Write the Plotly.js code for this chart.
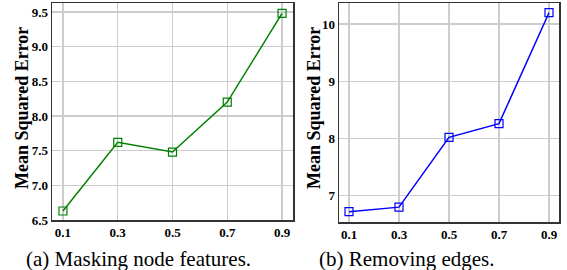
<!DOCTYPE html>
<html><head><meta charset="utf-8">
<script src="https://cdn.plot.ly/plotly-3.0.1.min.js"></script>
<style>body{margin:0;padding:0;background:#fff}#c{width:567px;height:270px}</style>
</head><body><div id="c"></div>
<script>
const ratios = [0.1, 0.3, 0.5, 0.7, 0.9];
const tickLabels = ['0.1', '0.3', '0.5', '0.7', '0.9'];
const maskingMSE = [6.63, 7.62, 7.48, 8.20, 9.48];
const removingMSE = [6.72, 6.80, 8.02, 8.26, 10.20];
const leftYTicks = [6.5, 7.0, 7.5, 8.0, 8.5, 9.0, 9.5];
const leftYLabels = ['6.5', '7.0', '7.5', '8.0', '8.5', '9.0', '9.5'];
const rightYTicks = [7, 8, 9, 10];
const rightYLabels = ['7', '8', '9', '10'];
const captions = ['(a)\u00a0Masking node features.', '(b)\u00a0Removing edges.'];
const yTitle = 'Mean Squared Error';

const serif = 'Liberation Serif, Times New Roman, serif';
const tickFont = {family: serif, size: 13, color: '#000', weight: 'bold'};
const gridColor = '#cccccc';

function xa(domain) {
  return {domain: domain, range: [0.06, 0.94], tickvals: ratios, ticktext: tickLabels,
    showgrid: true, gridcolor: gridColor, gridwidth: 1.5, zeroline: false,
    showline: true, mirror: true, linecolor: '#333', linewidth: 1.5,
    ticks: '', tickfont: tickFont, fixedrange: true};
}
function ya(domain, range, tv, tt, anchor) {
  return {domain: domain, range: range, tickvals: tv, ticktext: tt, anchor: anchor,
    showgrid: true, gridcolor: gridColor, gridwidth: 1.5, zeroline: false,
    showline: true, mirror: true, linecolor: '#333', linewidth: 1.5,
    ticks: '', tickfont: tickFont, fixedrange: true};
}

const data = [
  {x: ratios, y: maskingMSE, xaxis: 'x', yaxis: 'y', type: 'scatter', mode: 'lines+markers',
   line: {color: '#008000', width: 1.5},
   marker: {symbol: 'square-open', size: 8, color: '#008000', line: {width: 1.2}}},
  {x: ratios, y: removingMSE, xaxis: 'x2', yaxis: 'y2', type: 'scatter', mode: 'lines+markers',
   line: {color: '#0000ff', width: 1.5},
   marker: {symbol: 'square-open', size: 8, color: '#0000ff', line: {width: 1.2}}}
];

function ann(text, xpx, ypx, size, bold, angle) {
  return {text: text, xref: 'paper', yref: 'paper', x: xpx/567, y: (270-ypx)/270,
    xanchor: 'center', yanchor: 'middle', textangle: angle || 0, showarrow: false,
    font: {family: serif, size: size, color: '#000', weight: bold ? 'bold' : 'normal'}};
}

const layout = {
  width: 567, height: 270, margin: {l: 0, r: 0, t: 0, b: 0},
  paper_bgcolor: '#fff', plot_bgcolor: '#fff', showlegend: false,
  xaxis: xa([52/567, 293/567]),
  yaxis: ya([50/270, 267/270], [6.5, 9.63], leftYTicks, leftYLabels, 'x'),
  xaxis2: Object.assign(xa([339/567, 559/567]), {anchor: 'y2'}),
  yaxis2: ya([48/270, 267/270], [6.54, 10.37], rightYTicks, rightYLabels, 'x2'),
  annotations: [
    ann(yTitle, 22, 108, 18, true, -90),
    ann(yTitle, 314, 108, 18, true, -90),
    ann(captions[0], 138, 259, 21, false),
    ann(captions[1], 407, 259, 21, false)
  ]
};
Plotly.newPlot('c', data, layout, {staticPlot: true});
</script></body></html>
